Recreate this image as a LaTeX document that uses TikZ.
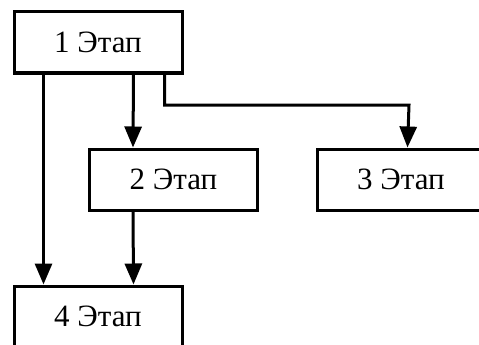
\documentclass[tikz,border=0pt]{standalone}
\usepackage{fontspec}
\setmainfont{Liberation Serif}
\usetikzlibrary{arrows.meta}
\begin{document}
\begin{tikzpicture}[x=1pt,y=-1pt,
  box/.style={draw=black,line width=3pt,fill=white,minimum width=168pt,minimum height=61pt,inner sep=0pt,font=\fontsize{31}{33}\selectfont},
  arr/.style={line width=3pt,-{Triangle[length=21pt,width=17pt]}}]
\useasboundingbox (0,0) rectangle (479,345);
\clip (0,0) rectangle (479,345);
\fill[white] (0,0) rectangle (479,345);
\node[box] (b1) at (98,42.5) {1 Этап};
\node[box] (b2) at (173.5,179.5) {2 Этап};
\node[box] (b3) at (401,179.5) {3 Этап};
\node[box] (b4) at (98,316.5) {4 Этап};
\coordinate (k) at (409,105);
\draw[arr] ([xshift=31pt]b1.south west) -- ([xshift=31pt]b4.north west);
\draw[arr] ([xshift=121pt]b1.south west) -- ([xshift=45pt]b2.north west);
\draw[arr] ([xshift=152pt]b1.south west) |- (k) -- ([xshift=92pt]b3.north west);
\draw[arr] ([xshift=45pt]b2.south west) -- ([xshift=121pt]b4.north west);
\end{tikzpicture}
\end{document}
